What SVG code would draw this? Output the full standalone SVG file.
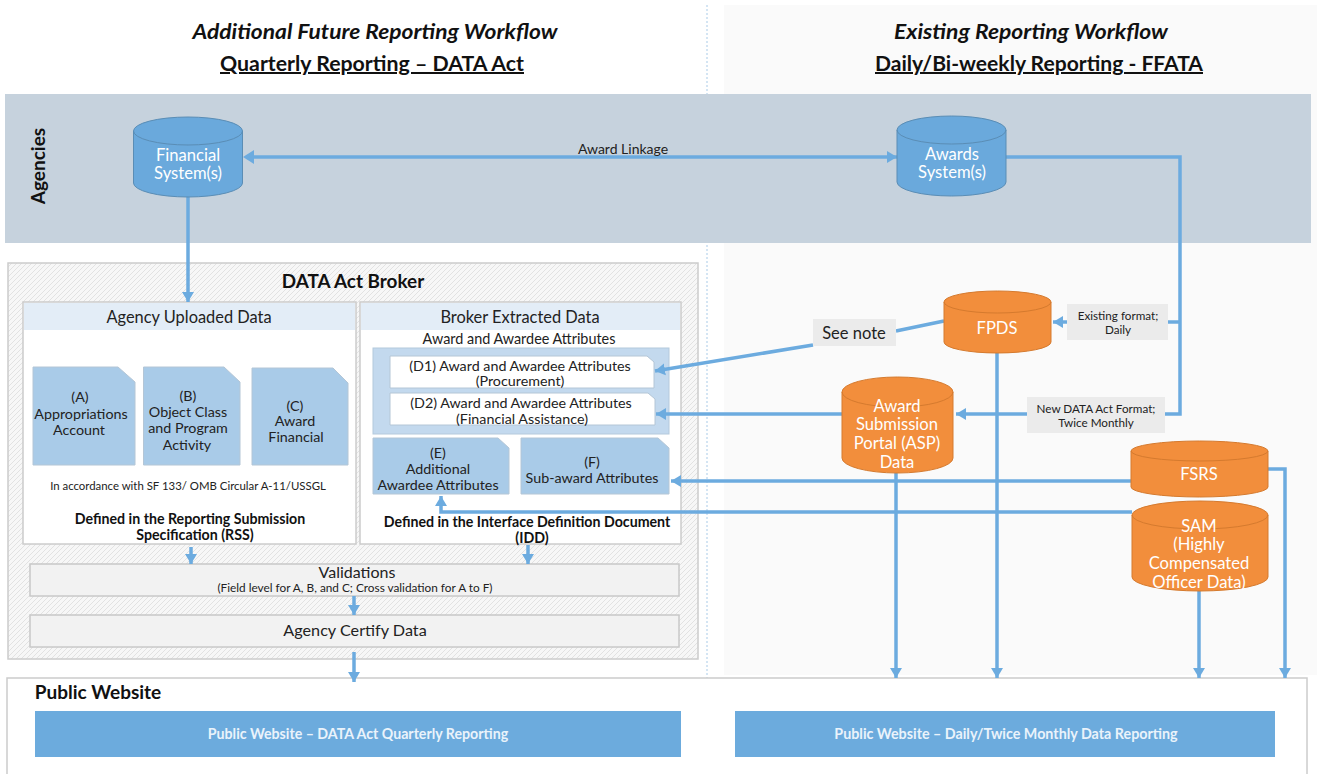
<svg xmlns="http://www.w3.org/2000/svg" width="1317" height="774" viewBox="0 0 1317 774">
<style>
text{font-family:"Lato","Open Sans","Liberation Sans",sans-serif;fill:#222;text-anchor:middle}
.title{font-size:20px;font-weight:700;font-style:italic;fill:#111}
.sub{font-size:20px;font-weight:700;text-decoration:underline;fill:#111}
.hdr{font-size:16.400px;fill:#222}
.doc{font-size:14.300px;fill:#222}
.bold{font-size:14.200px;font-weight:700;fill:#111}
.w{fill:#fff;font-size:16.600px}
.tag{font-size:11.700px;fill:#222}
.panel{fill:#fff;stroke:#ccc;stroke-width:1.5}
.head{fill:#e3edf7}
.note{fill:#a9cbe8;stroke:#b4c6d6;stroke-width:1}
.grey{fill:#f2f2f2;stroke:#c8c8c8;stroke-width:1.5}
.label{fill:#ebebeb}
.band{fill:#6cabdd}
.bcyl{fill:#6aa9dc;stroke:#5a8db5;stroke-width:1}
.ocyl{fill:#f28e3c;stroke:#d57a2e;stroke-width:1}
.cap{fill:none}
.c{fill:none;stroke:#6cabdf;stroke-width:3.500}
</style>
<defs>
<marker id="arr" markerUnits="userSpaceOnUse" markerWidth="12" markerHeight="14" refX="10" refY="7" orient="auto"><path d="M0 1L10 7L0 13Z" fill="#6cabdf"/></marker>
<pattern id="hatch" patternUnits="userSpaceOnUse" width="5" height="5"><rect width="5" height="5" fill="#f7f7f7"/><path d="M-1 1L1 -1M0 5L5 0M4 6L6 4" stroke="#e2e2e2" stroke-width="1"/></pattern>
</defs>
<rect width="1317" height="774" fill="#fff"/>
<rect id="right-panel" x="724" y="5" width="593" height="670" fill="#fafafa"/>
<line x1="707" y1="5" x2="707" y2="772" stroke="#a9cbe8" stroke-width="1" stroke-dasharray="2 2"/>
<g id="titles">
<text class="title" x="375" y="39" textLength="365" lengthAdjust="spacingAndGlyphs">Additional Future Reporting Workflow</text>
<text class="sub" x="372" y="71" textLength="304" lengthAdjust="spacingAndGlyphs">Quarterly Reporting – DATA Act</text>
<text class="title" x="1031" y="39" textLength="274" lengthAdjust="spacingAndGlyphs">Existing Reporting Workflow</text>
<text class="sub" x="1039" y="71" textLength="328" lengthAdjust="spacingAndGlyphs">Daily/Bi-weekly Reporting - FFATA</text>
</g>
<g id="agencies">
<rect x="5" y="94" width="1306" height="149" fill="#c6d2dd"/>
<text x="45" y="166" transform="rotate(-90 45 166)" style="font-size:19px;font-weight:700;fill:#111">Agencies</text>
</g>
<g id="broker">
<rect x="8" y="263" width="690" height="396" fill="url(#hatch)" stroke="#ccc" stroke-width="1.5"/>
<text x="353" y="288" style="font-size:18.900px;font-weight:700;fill:#111">DATA Act Broker</text>
</g>
<g id="agency-uploaded">
<rect class="panel" x="23" y="302" width="333" height="242"/>
<rect class="head" x="24" y="303" width="331" height="27"/>
<text class="hdr" x="189" y="323">Agency Uploaded Data</text>
<text x="188" y="490" style="font-size:11.400px">In accordance with SF 133/ OMB Circular A-11/USSGL</text>
<text class="bold" x="190" y="524">Defined in the Reporting Submission</text>
<text class="bold" x="195" y="540">Specification (RSS)</text>
</g>
<g id="doc-a">
<path class="note" d="M33 367H118L135 382V465H33Z"/>
<text class="doc" x="80" y="402">(A)</text>
<text class="doc" x="81" y="419">Appropriations</text>
<text class="doc" x="79" y="435">Account</text>
</g>
<g id="doc-b">
<path class="note" d="M143.500 367H224L240 382V465H143.500Z"/>
<text class="doc" x="188" y="401">(B)</text>
<text class="doc" x="188" y="417">Object Class</text>
<text class="doc" x="188" y="433">and Program</text>
<text class="doc" x="187" y="450">Activity</text>
</g>
<g id="doc-c">
<path class="note" d="M252 368H333L348 383V465H252Z"/>
<text class="doc" x="295" y="411">(C)</text>
<text class="doc" x="295" y="426">Award</text>
<text class="doc" x="296" y="442">Financial</text>
</g>
<g id="broker-extracted">
<rect class="panel" x="360" y="302" width="321" height="242"/>
<rect class="head" x="361" y="303" width="319" height="27"/>
<text class="hdr" x="520" y="323">Broker Extracted Data</text>
<text style="font-size:14.400px" x="519" y="344">Award and Awardee Attributes</text>
<rect x="373" y="348" width="296" height="86" fill="#c3d9ee" stroke="#b4c9dc"/>
<text class="bold" x="527" y="527">Defined in the Interface Definition Document</text>
<text class="bold" x="532" y="543">(IDD)</text>
</g>
<g id="doc-d1">
<path d="M390 356H647L654 362V388H390Z" fill="#fff" stroke="#b4c6d6"/>
<text class="doc" x="520" y="371">(D1) Award and Awardee Attributes</text>
<text class="doc" x="520" y="386">(Procurement)</text>
</g>
<g id="doc-d2">
<path d="M390 393H648L655 399V425H390Z" fill="#fff" stroke="#b4c6d6"/>
<text class="doc" x="521" y="408">(D2) Award and Awardee Attributes</text>
<text class="doc" x="522" y="424">(Financial Assistance)</text>
</g>
<g id="doc-e">
<path class="note" d="M373 438H498L509 448V494H373Z"/>
<text class="doc" x="438" y="458">(E)</text>
<text class="doc" x="438" y="474">Additional</text>
<text class="doc" x="438" y="490">Awardee Attributes</text>
</g>
<g id="doc-f">
<path class="note" d="M521 438H658L669 448V494H521Z"/>
<text class="doc" x="592" y="467">(F)</text>
<text class="doc" x="592" y="483">Sub-award Attributes</text>
</g>
<g id="validations">
<rect class="grey" x="30" y="564" width="649" height="32"/>
<text x="357" y="578" style="font-size:16px">Validations</text>
<text x="355" y="592" style="font-size:11.800px">(Field level for A, B, and C; Cross validation for A to F)</text>
</g>
<g id="certify">
<rect class="grey" x="30" y="615" width="649" height="32"/>
<text x="355" y="636" style="font-size:16.200px">Agency Certify Data</text>
</g>
<g id="public-website">
<rect x="7" y="678" width="1300" height="100" fill="#fff" stroke="#ccc" stroke-width="1.5"/>
<text x="98" y="699" style="font-size:19px;font-weight:700;fill:#111">Public Website</text>
</g>
<g id="site-quarterly">
<rect class="band" x="35" y="711" width="646" height="46"/>
<text x="358" y="739" style="font-size:14.200px;font-weight:700;fill:#eaf3fb">Public Website – DATA Act Quarterly Reporting</text>
</g>
<g id="site-daily">
<rect class="band" x="735" y="711" width="540" height="46"/>
<text x="1006" y="739" style="font-size:14.300px;font-weight:700;fill:#eaf3fb">Public Website – Daily/Twice Monthly Data Reporting</text>
</g>
<g id="connectors">
<path class="c" d="M188 197V302" marker-end="url(#arr)"/>
<path class="c" d="M246 157H897" marker-end="url(#arr)"/>
<path d="M254 150L243 157L254 164Z" fill="#6cabdf"/>
<path class="c" d="M1006 157H1180V414H1165"/>
<path class="c" d="M1180 322H1168"/>
<path class="c" d="M1067 322H1053" marker-end="url(#arr)"/>
<path class="c" d="M1027 414H956" marker-end="url(#arr)"/>
<path class="c" d="M944 321L896 331"/>
<path class="c" d="M813 345L655 371" marker-end="url(#arr)"/>
<path class="c" d="M842 414H656" marker-end="url(#arr)"/>
<path class="c" d="M1131 481H671" marker-end="url(#arr)"/>
<path class="c" d="M1132 512H441V496" marker-end="url(#arr)"/>
<path class="c" d="M1268 469H1285V678" marker-end="url(#arr)"/>
<path class="c" d="M896 473V678" marker-end="url(#arr)"/>
<path class="c" d="M997 353V678" marker-end="url(#arr)"/>
<path class="c" d="M1199 591V678" marker-end="url(#arr)"/>
<path class="c" d="M191 547V564" marker-end="url(#arr)"/>
<path class="c" d="M528 545V564" marker-end="url(#arr)"/>
<path class="c" d="M354 596V615" marker-end="url(#arr)"/>
<path class="c" d="M354 652V682" marker-end="url(#arr)"/>
</g>
<g id="award-linkage"><text x="623" y="154" style="font-size:14px">Award Linkage</text></g>
<g id="financial-system">
<path class="bcyl" d="M133.500 131V183A54.500 14 0 0 0 242.500 183V131A54.500 14 0 0 0 133.500 131Z"/>
<path class="cap" stroke="#5a8db5" d="M133.500 131A54.500 14 0 0 0 242.500 131"/>
<text class="w" x="188" y="161">Financial</text>
<text class="w" x="188" y="179">System(s)</text>
</g>
<g id="awards-system">
<path class="bcyl" d="M897 130V182A54.500 14 0 0 0 1006 182V130A54.500 14 0 0 0 897 130Z"/>
<path class="cap" stroke="#5a8db5" d="M897 130A54.500 14 0 0 0 1006 130"/>
<text class="w" x="952" y="160">Awards</text>
<text class="w" x="952" y="178">System(s)</text>
</g>
<g id="see-note">
<rect class="label" x="813" y="319" width="83" height="27"/>
<text x="854" y="339" style="font-size:16.500px">See note</text>
</g>
<g id="existing-format">
<rect class="label" x="1067" y="304" width="101" height="36"/>
<text class="tag" x="1118" y="320">Existing format;</text>
<text class="tag" x="1118" y="334">Daily</text>
</g>
<g id="new-format">
<rect class="label" x="1027" y="397" width="138" height="36"/>
<text class="tag" x="1096" y="413">New DATA Act Format;</text>
<text class="tag" x="1096" y="427">Twice Monthly</text>
</g>
<g id="fpds">
<path class="ocyl" d="M944 302V342A53.500 11 0 0 0 1051 342V302A53.500 11 0 0 0 944 302Z"/>
<path class="cap" stroke="#d57a2e" d="M944 302A53.500 11 0 0 0 1051 302"/>
<text class="w" x="997" y="334">FPDS</text>
</g>
<g id="asp">
<path class="ocyl" d="M842 392V458A55.500 15 0 0 0 953 458V392A55.500 15 0 0 0 842 392Z"/>
<path class="cap" stroke="#d57a2e" d="M842 392A55.500 15 0 0 0 953 392"/>
<text class="w" x="897" y="412">Award</text>
<text class="w" x="897" y="430">Submission</text>
<text class="w" x="897" y="449">Portal (ASP)</text>
<text class="w" x="897" y="468">Data</text>
</g>
<g id="fsrs">
<path class="ocyl" d="M1131 451V487A68.500 10 0 0 0 1268 487V451A68.500 10 0 0 0 1131 451Z"/>
<path class="cap" stroke="#d57a2e" d="M1131 451A68.500 10 0 0 0 1268 451"/>
<text class="w" x="1199" y="480">FSRS</text>
</g>
<g id="sam">
<path class="ocyl" d="M1132 515V577A68 14 0 0 0 1268 577V515A68 14 0 0 0 1132 515Z"/>
<path class="cap" stroke="#d57a2e" d="M1132 515A68 14 0 0 0 1268 515"/>
<text class="w" x="1199" y="532">SAM</text>
<text class="w" x="1199" y="550">(Highly</text>
<text class="w" x="1199" y="569">Compensated</text>
<text class="w" x="1199" y="588">Officer Data)</text>
</g>
</svg>
